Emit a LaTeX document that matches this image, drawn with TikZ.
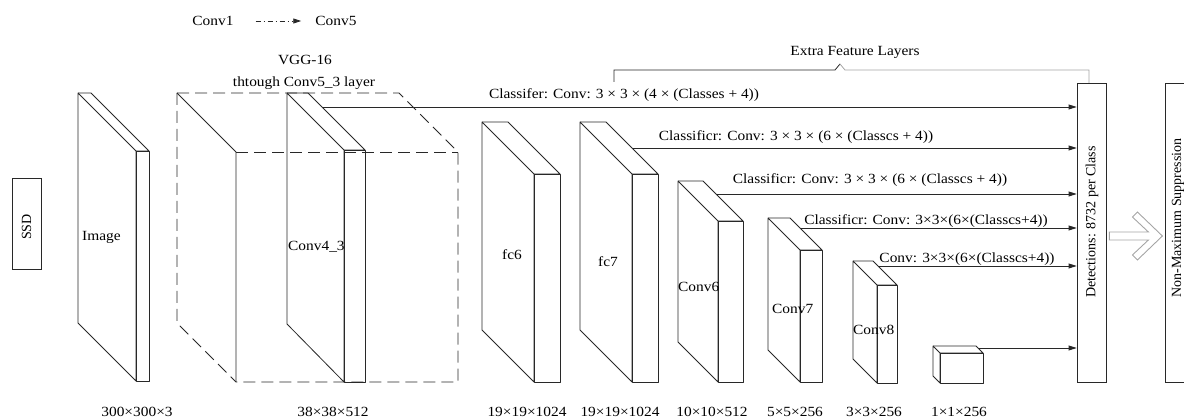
\documentclass[tikz,border=0pt]{standalone}
\usepackage{fontspec}
\setmainfont{Liberation Serif}[FakeStretch=1.1]
\newfontfamily\uprightfont{Liberation Serif}
\usetikzlibrary{arrows.meta, positioning, calc}
\definecolor{cLine}{RGB}{40,40,40}
\definecolor{cGrey}{RGB}{165,165,165}
\tikzset{
	slab/.style     ={draw=cLine, line width=0.8pt, line join=round},
	vggbox/.style   ={draw=cLine, line width=0.8pt, dash pattern=on 12pt off 6pt},
	lbl/.style      ={inner sep=0pt, text=black},
	vlbl/.style     ={inner sep=0pt, text=black, rotate=90, font=\fontsize{14}{16}\uprightfont},
	box/.style      ={rectangle, draw=cLine, line width=0.8pt, minimum width=29pt, inner sep=0pt},
	flow/.style     ={-{Triangle[length=8pt, width=5pt]}, draw=cLine, line width=0.8pt},
	legflow/.style  ={-{Triangle[length=8pt, width=5pt]}, draw=cLine, line width=0.8pt, dash pattern=on 5pt off 3pt on 1pt off 3pt},
	hollow/.style   ={draw=cGrey, line width=0.9pt, line join=miter},
}
\begin{document}
\begin{tikzpicture}[x=1pt, y=-1pt, font=\fontsize{14}{16}\selectfont]
	\useasboundingbox (0,0) rectangle (1184,419);
	\clip (0,0) rectangle (1184,419);
	% ---- legend and titles ----
	\node[lbl] (legA) at (213,21) {Conv1};
	\node[lbl] (legB) at (336,21) {Conv5};
	\draw[legflow, shorten <=22pt, shorten >=14pt] (legA) -- (legB);
	\node[lbl] (vgg) at (305,60) {VGG-16};
	\node[lbl] (thru) at (304,83) {thtough Conv5\_3 layer};
	\node[lbl] (extra) at (855,52) {Extra Feature Layers};
	% ---- SSD ----
	\node[box, minimum height=91pt] (ssd) at (26.5,223.5) {};
	\node[vlbl] (ssdtxt) at (26.5,227) {SSD};
	% ---- Image ----
	\begin{scope}[shift={(78,93)}]
		\draw[slab] (0,0) -- (58,58) -- (58,288) -- (0,230) -- cycle;
		\draw[slab] (0,0) -- (13,0) -- (71,58) -- (58,58);
		\draw[slab] (58,58) rectangle (71,288);
		\node[lbl, anchor=west] (imgtxt) at (4,144) {Image};
	\end{scope}
	% ---- VGG-16 block ----
	\begin{scope}[shift={(177,93)}]
		\draw[slab] (0,0) -- (59,59) -- (59,289);
		\draw[vggbox] (0,0) -- (222,0) -- (281,59) -- (281,289) -- (59,289);
		\draw[vggbox] (0,0) -- (0,230) -- (59,289);
		\draw[vggbox] (59,59) -- (281,59);
	\end{scope}
	% ---- Conv4_3 ----
	\begin{scope}[shift={(287,93)}]
		\draw[slab] (0,0) -- (57,57) -- (57,289) -- (0,231) -- cycle;
		\draw[slab] (0,0) -- (21,0) -- (78,57) -- (57,57);
		\draw[slab] (57,57) rectangle (78,289);
		\coordinate (c43out) at (35,14);
		\node[lbl, anchor=west] (c43txt) at (1,154) {Conv4\_3};
	\end{scope}
	% ---- fc6 ----
	\begin{scope}[shift={(482,122)}]
		\draw[slab] (0,0) -- (52,52) -- (52,260) -- (0,208) -- cycle;
		\draw[slab] (0,0) -- (26,0) -- (78,52) -- (52,52);
		\draw[slab] (52,52) rectangle (78,260);
		\node[lbl] (fc6txt) at (30,133) {fc6};
	\end{scope}
	% ---- fc7 ----
	\begin{scope}[shift={(580,122)}]
		\draw[slab] (0,0) -- (52,52) -- (52,260) -- (0,208) -- cycle;
		\draw[slab] (0,0) -- (26,0) -- (78,52) -- (52,52);
		\draw[slab] (52,52) rectangle (78,260);
		\coordinate (fc7out) at (52,26);
		\node[lbl] (fc7txt) at (28,140) {fc7};
	\end{scope}
	% ---- Conv6 ----
	\begin{scope}[shift={(678,181)}]
		\draw[slab] (0,0) -- (40,40) -- (40,201) -- (0,161) -- cycle;
		\draw[slab] (0,0) -- (25,0) -- (65,40) -- (40,40);
		\draw[slab] (40,40) rectangle (65,201);
		\coordinate (c6out) at (38,13);
		\node[lbl, anchor=west] (c6txt) at (0,106) {Conv6};
	\end{scope}
	% ---- Conv7 ----
	\begin{scope}[shift={(768,218)}]
		\draw[slab] (0,0) -- (32,32) -- (32,164) -- (0,132) -- cycle;
		\draw[slab] (0,0) -- (22,0) -- (54,32) -- (32,32);
		\draw[slab] (32,32) rectangle (54,164);
		\coordinate (c7out) at (32,10);
		\node[lbl, anchor=west] (c7txt) at (4,91) {Conv7};
	\end{scope}
	% ---- Conv8 ----
	\begin{scope}[shift={(853,261)}]
		\draw[slab] (0,0) -- (24,24) -- (24,122) -- (0,98) -- cycle;
		\draw[slab] (0,0) -- (20,0) -- (44,24) -- (24,24);
		\draw[slab] (24,24) rectangle (44,122);
		\coordinate (c8out) at (25,5);
		\node[lbl, anchor=west] (c8txt) at (0,69) {Conv8};
	\end{scope}
	% ---- Conv9 (1x1) ----
	\begin{scope}[shift={(933,346)}]
		\draw[slab] (0,0) -- (7,7) -- (7,37) -- (0,30) -- cycle;
		\draw[slab] (0,0) -- (43,0) -- (50,7) -- (7,7);
		\draw[slab] (7,7) rectangle (50,37);
		\coordinate (c9out) at (45,2);
	\end{scope}
	% ---- detections and NMS ----
	\node[box, minimum height=299pt] (det) at (1091.5,232.5) {};
	\node[vlbl] (dettxt) at (1092,222) {Detections: 8732 per Class};
	\node[box, minimum height=299pt] (nms) at (1179.5,232.5) {};
	\node[vlbl] (nmstxt) at (1178,218) {Non-Maximum Suppression};
	% ---- classifier branches ----
	\draw[flow] (c43out) -- (c43out -| det.west);
	\draw[flow] (fc7out) -- (fc7out -| det.west);
	\draw[flow] (c6out) -- (c6out -| det.west);
	\draw[flow] (c7out) -- (c7out -| det.west);
	\draw[flow] (c8out) -- (c8out -| det.west);
	\draw[flow] (c9out) -- (c9out -| det.west);
	\node[lbl] (cls1) at (624,95) {Classifer: Conv: 3 × 3 × (4 × (Classes + 4))};
	\node[lbl] (cls2) at (796,137) {Classificr: Conv: 3 × 3 × (6 × (Classcs + 4))};
	\node[lbl] (cls3) at (870,180) {Classificr: Conv: 3 × 3 × (6 × (Classcs + 4))};
	\node[lbl] (cls4) at (926,221) {Classificr: Conv: 3×3×(6×(Classcs+4))};
	\node[lbl] (cls5) at (967,259) {Conv: 3×3×(6×(Classcs+4))};
	% extra feature bracket
	\draw[cLine, line width=0.8pt] (614,82) -- (614,70) -- (835,70) -- (840,64);
	\draw[cGrey, line width=0.8pt] (840,64) -- (845,70) -- (1089,70) -- (1089,83);
	% hollow arrow
	\begin{scope}[shift={(det.east)}]
		\draw[hollow] (3,-0.5) -- (42,-0.5) -- (26,-15.5) -- (31,-20.5) -- (56,3.5)
			-- (31,27.5) -- (26,22.5) -- (42,7.5) -- (3,7.5) -- cycle;
	\end{scope}
	% ---- sizes ----
	\node[lbl] (dimA) at (137,412) {300×300×3};
	\node[lbl] (dimB) at (333,412) {38×38×512};
	\node[lbl] (dimC) at (527,412) {19×19×1024};
	\node[lbl] (dimD) at (620,412) {19×19×1024};
	\node[lbl] (dimE) at (712,412) {10×10×512};
	\node[lbl] (dimF) at (795,412) {5×5×256};
	\node[lbl] (dimG) at (874,412) {3×3×256};
	\node[lbl] (dimH) at (959,412) {1×1×256};
\end{tikzpicture}
\end{document}
